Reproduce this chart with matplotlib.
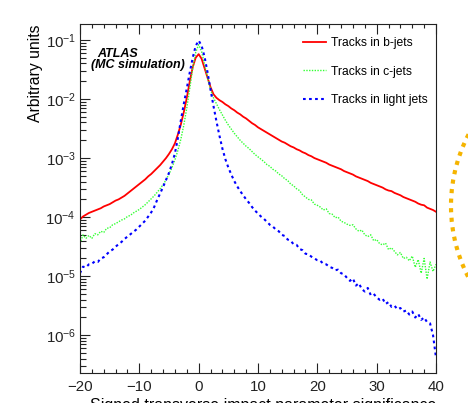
import numpy as np
import matplotlib
matplotlib.use("Agg")
import matplotlib.pyplot as plt
from matplotlib.patches import Arc
from matplotlib.ticker import MultipleLocator, LogLocator, NullFormatter

plt.rcParams['font.family'] = ['Liberation Sans', 'DejaVu Sans']
plt.rcParams['mathtext.default'] = 'regular'

# bin centres of the significance histogram
x_sig = np.arange(-20, 40.01, 0.5)

# log10 of the normalised entries
b_log10 = [
    -4.04, -3.99, -3.96, -3.93, -3.91, -3.89, -3.87, -3.85, -3.82, -3.80,
    -3.78, -3.75, -3.72, -3.70, -3.67, -3.64, -3.60, -3.56, -3.52, -3.48,
    -3.44, -3.40, -3.36, -3.31, -3.27, -3.22, -3.17, -3.12, -3.06, -3.00,
    -2.93, -2.85, -2.75, -2.60, -2.43, -2.22, -1.98, -1.70, -1.46, -1.30,
    -1.24, -1.32, -1.48, -1.64, -1.80, -1.92, -1.98, -2.02, -2.05, -2.09,
    -2.12, -2.16, -2.19, -2.23, -2.26, -2.30, -2.33, -2.37, -2.41, -2.44,
    -2.48, -2.51, -2.54, -2.57, -2.60, -2.63, -2.66, -2.69, -2.72, -2.74,
    -2.77, -2.80, -2.82, -2.85, -2.87, -2.90, -2.92, -2.95, -2.97, -3.00,
    -3.02, -3.04, -3.06, -3.08, -3.11, -3.13, -3.15, -3.17, -3.19, -3.22,
    -3.24, -3.26, -3.28, -3.31, -3.33, -3.35, -3.37, -3.39, -3.42, -3.44,
    -3.46, -3.48, -3.50, -3.53, -3.55, -3.56, -3.59, -3.61, -3.63, -3.66,
    -3.68, -3.70, -3.72, -3.74, -3.77, -3.79, -3.80, -3.84, -3.86, -3.88,
    -3.91]

c_log10 = [
    -4.45, -4.30, -4.36, -4.31, -4.36, -4.28, -4.30, -4.24, -4.26, -4.19,
    -4.18, -4.13, -4.11, -4.08, -4.05, -4.03, -3.99, -3.97, -3.93, -3.90,
    -3.87, -3.83, -3.79, -3.74, -3.69, -3.64, -3.58, -3.52, -3.45, -3.37,
    -3.27, -3.16, -3.03, -2.87, -2.68, -2.44, -2.15, -1.82, -1.48, -1.21,
    -1.08, -1.20, -1.42, -1.64, -1.84, -1.98, -2.08, -2.18, -2.27, -2.36,
    -2.44, -2.51, -2.58, -2.64, -2.70, -2.75, -2.80, -2.84, -2.89, -2.94,
    -2.98, -3.02, -3.06, -3.11, -3.14, -3.19, -3.22, -3.27, -3.30, -3.35,
    -3.38, -3.44, -3.47, -3.52, -3.55, -3.62, -3.66, -3.70, -3.71, -3.78,
    -3.80, -3.83, -3.88, -3.86, -3.94, -3.95, -4.01, -4.00, -4.07, -4.09,
    -4.12, -4.14, -4.13, -4.20, -4.24, -4.22, -4.30, -4.33, -4.30, -4.40,
    -4.38, -4.45, -4.47, -4.44, -4.55, -4.52, -4.58, -4.64, -4.60, -4.70,
    -4.68, -4.74, -4.66, -4.85, -4.72, -4.95, -4.70, -5.05, -4.76, -4.92,
    -4.80]

light_log10 = [
    -4.95, -4.84, -4.85, -4.80, -4.79, -4.75, -4.76, -4.70, -4.68, -4.63,
    -4.58, -4.55, -4.50, -4.46, -4.42, -4.37, -4.33, -4.29, -4.25, -4.21,
    -4.16, -4.11, -4.06, -3.99, -3.92, -3.83, -3.71, -3.60, -3.49, -3.37,
    -3.25, -3.10, -2.92, -2.66, -2.36, -2.08, -1.82, -1.55, -1.30, -1.10,
    -1.01, -1.10, -1.29, -1.55, -1.84, -2.12, -2.38, -2.62, -2.84, -3.02,
    -3.16, -3.28, -3.39, -3.48, -3.56, -3.63, -3.70, -3.76, -3.83, -3.89,
    -3.94, -3.99, -4.03, -4.08, -4.13, -4.16, -4.21, -4.24, -4.30, -4.32,
    -4.38, -4.40, -4.46, -4.47, -4.54, -4.56, -4.62, -4.63, -4.67, -4.70,
    -4.73, -4.74, -4.79, -4.80, -4.84, -4.86, -4.90, -4.89, -4.95, -4.97,
    -5.03, -5.08, -5.04, -5.16, -5.12, -5.22, -5.26, -5.20, -5.32, -5.30,
    -5.36, -5.40, -5.38, -5.47, -5.44, -5.52, -5.50, -5.56, -5.54, -5.60,
    -5.58, -5.65, -5.60, -5.70, -5.64, -5.74, -5.70, -5.78, -5.80, -6.00,
    -6.38]

labels = ["Tracks in b-jets", "Tracks in c-jets", "Tracks in light jets"]

fig = plt.figure(figsize=(4.68, 4.03), dpi=100)
ax = fig.add_axes([80/468, 1 - 373/403, 356/468, 349/403])

ax.plot(x_sig, 10.0**np.array(b_log10), color="#ff0000", lw=1.3,
        label=labels[0])
ax.plot(x_sig, 10.0**np.array(c_log10), color="#33ff33", lw=1.0,
        linestyle=(0, (1, 1)), label=labels[1])
ax.plot(x_sig, 10.0**np.array(light_log10), color="#0000ff", lw=1.5,
        linestyle=(0, (1.3, 1.6)), label=labels[2])

ax.set_yscale("log")
ax.set_xlim(-20, 40)
ax.set_ylim(10**-6.64, 10**-0.73)

ax.xaxis.set_major_locator(MultipleLocator(10))
ax.xaxis.set_minor_locator(MultipleLocator(2))
ax.yaxis.set_major_locator(LogLocator(base=10, numticks=20))
ax.yaxis.set_minor_locator(LogLocator(base=10, subs=np.arange(2, 10), numticks=20))
ax.yaxis.set_minor_formatter(NullFormatter())

ax.tick_params(which="both", direction="in", top=True, right=False,
               width=0.8, labelsize=10.8, colors="#222222")
ax.tick_params(axis="x", which="major", length=7.5, pad=5)
ax.tick_params(axis="x", which="minor", length=3)
ax.tick_params(axis="y", which="major", length=7.5, pad=3)
ax.tick_params(axis="y", which="minor", length=4)
for sp in ax.spines.values():
    sp.set_linewidth(0.8)
    sp.set_color("#222222")

ax.set_xlabel("Signed transverse impact parameter significance",
              loc="right", fontsize=11.5, labelpad=3)
ax.set_ylabel("Arbitrary units", loc="top", fontsize=11.3, labelpad=2)

ax.text((97-80)/356, (373-57)/349, "ATLAS", transform=ax.transAxes,
        fontsize=9, fontweight="bold", style="italic", va="baseline")
ax.text((91-80)/356, (373-68)/349, "(MC simulation)", transform=ax.transAxes,
        fontsize=9, fontweight="bold", style="italic", va="baseline")

ax.legend(loc="upper left", bbox_to_anchor=((303-80)/356, (373-37)/349),
          frameon=False, fontsize=8.7, borderpad=0, borderaxespad=0,
          handlelength=1.9, handletextpad=0.45, labelspacing=1.38)

# dotted orange arc poking in from the right edge
fig.add_artist(Arc((606/468, 1 - 206/403), 2*155/468, 2*155/403,
                   theta1=145, theta2=215, transform=fig.transFigure,
                   color="#f5b400", lw=3.0, linestyle=(0, (1, 1.3))))

fig.savefig("out.png", dpi=100)
